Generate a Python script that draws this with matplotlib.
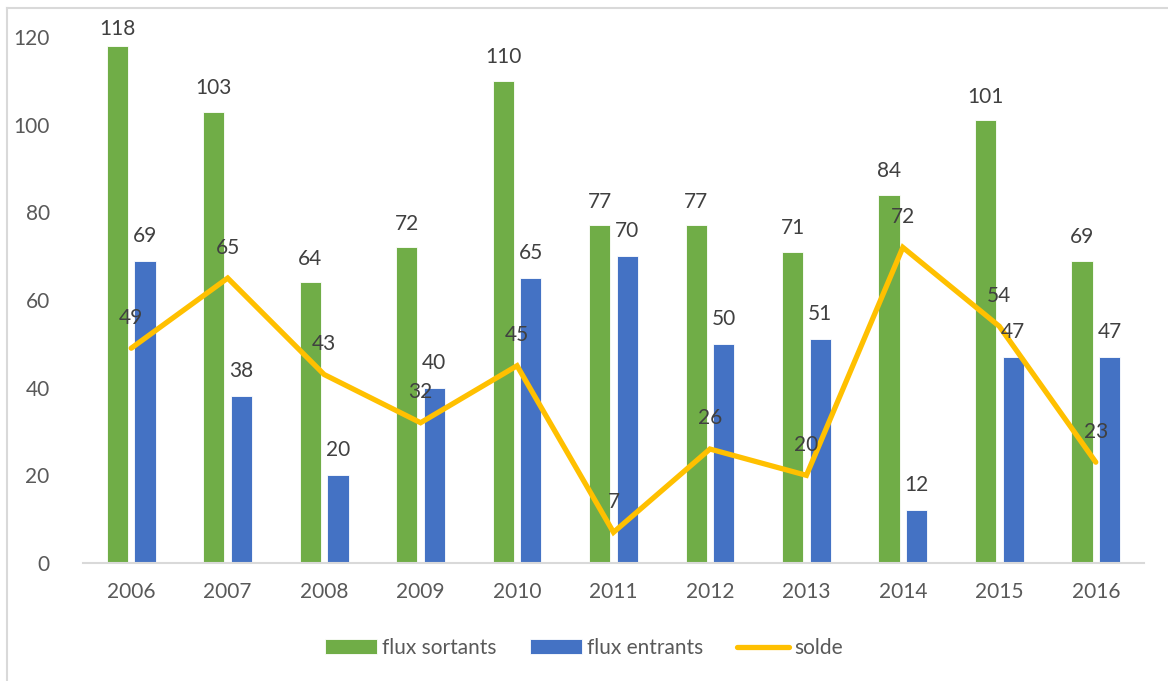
import numpy as np
import matplotlib.pyplot as plt
from matplotlib.lines import Line2D

years = ['2006', '2007', '2008', '2009', '2010', '2011', '2012', '2013', '2014', '2015', '2016']
flux_sortants = [118, 103, 64, 72, 110, 77, 77, 71, 84, 101, 69]
flux_entrants = [69, 38, 20, 40, 65, 70, 50, 51, 12, 47, 47]
solde = [49, 65, 43, 32, 45, 7, 26, 20, 72, 54, 23]

green = '#70AD47'
blue = '#4472C4'
yellow = '#FFC000'
txt = '#404040'

plt.rcParams['font.family'] = ['Lato', 'DejaVu Sans']

fig = plt.figure(figsize=(11.68, 6.81), dpi=100)
ax = fig.add_axes([83 / 1168, 1 - 563 / 681, (1144 - 83) / 1168, (563 - 37) / 681])

x = np.arange(len(years))
w = 0.22
off = 0.143
b1 = ax.bar(x - off, flux_sortants, w, color=green, edgecolor='white', linewidth=0.6, label='flux sortants', zorder=2)
b2 = ax.bar(x + off, flux_entrants, w, color=blue, edgecolor='white', linewidth=0.6, label='flux entrants', zorder=2)
l1, = ax.plot(x, solde, color=yellow, linewidth=3.8, solid_capstyle='round', solid_joinstyle='miter',
              label='solde', zorder=3)

for i in range(len(years)):
    dy = 17 if flux_sortants[i] < 115 else 12
    ax.annotate(str(flux_sortants[i]), (x[i] - off, flux_sortants[i]), xytext=(0, dy),
                textcoords='offset points', ha='center', va='center', fontsize=15, color=txt,
                annotation_clip=False, zorder=4)
    ax.annotate(str(flux_entrants[i]), (x[i] + off, flux_entrants[i]), xytext=(0, 18),
                textcoords='offset points', ha='center', va='center', fontsize=15, color=txt,
                annotation_clip=False, zorder=4)
    ax.annotate(str(solde[i]), (x[i], solde[i]), xytext=(0, 22),
                textcoords='offset points', ha='center', va='center', fontsize=15, color=txt,
                annotation_clip=False, zorder=4)

ax.set_xlim(-0.5, len(years) - 0.5)
ax.set_ylim(0, 120)
ax.set_yticks(range(0, 121, 20))
ax.set_xticks(x)
ax.set_xticklabels(years)
ax.tick_params(axis='both', length=0, labelsize=15, labelcolor='#595959')
ax.tick_params(axis='x', pad=14)
ax.tick_params(axis='y', pad=24)
for s in ['top', 'right', 'left']:
    ax.spines[s].set_visible(False)
ax.spines['bottom'].set_color('#D9D9D9')
ax.spines['bottom'].set_linewidth(1.5)

leg = fig.legend([b1, b2, l1], ['flux sortants', 'flux entrants', 'solde'],
                 loc='center', bbox_to_anchor=(0.5, 1 - 648 / 681), ncol=3, frameon=False,
                 fontsize=15, handlelength=2.5, handleheight=0.75, handletextpad=0.25,
                 columnspacing=1.6)
for t in leg.get_texts():
    t.set_color('#595959')

fig.add_artist(Line2D([7 / 1168, 1], [1 - 8 / 681, 1 - 8 / 681], color='#D9D9D9', linewidth=1.5))
fig.add_artist(Line2D([7 / 1168, 7 / 1168], [0, 1 - 8 / 681], color='#D9D9D9', linewidth=1.5))

fig.savefig('out.png', dpi=100)
